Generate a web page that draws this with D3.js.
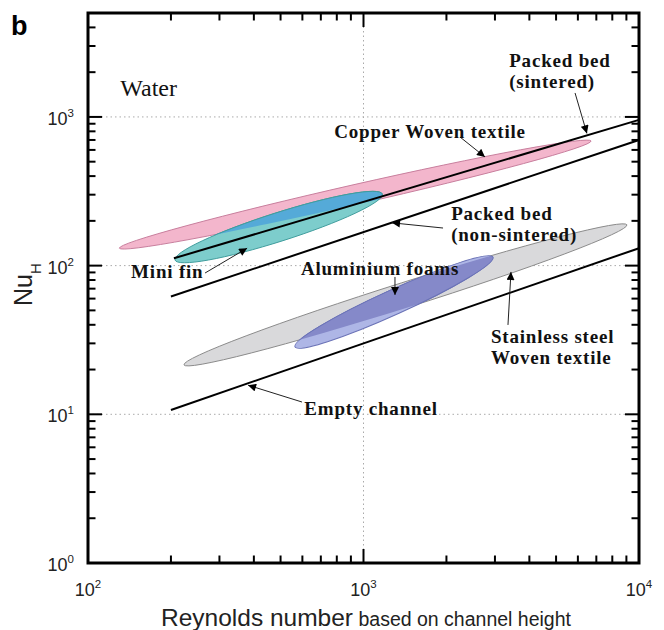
<!DOCTYPE html>
<html><head><meta charset="utf-8">
<script src="https://cdn.jsdelivr.net/npm/d3@7"></script>
<style>body{margin:0;background:#fff}</style>
</head><body>
<svg id="c" width="664" height="630"></svg>
<script>
// ---- data ----
const xTickExps = [2, 3, 4];            // Reynolds 10^2..10^4
const yTickExps = [0, 1, 2, 3];         // Nu 10^0..10^3
const lineNames = ["Packed bed (sintered)", "Packed bed (non-sintered)", "Empty channel"];
const lineRe = [[205, 10000], [200, 10000], [200, 10000]];
const lineNu = [[112, 955], [62, 700], [10.7, 131]];
const ellipseNames = ["Stainless steel Woven textile", "Aluminium foams", "Copper Woven textile", "Mini fin"];
const ellipseRe = [[223, 9040], [564, 2950], [130, 6700], [207, 1170]];
const ellipseNu = [[21.5, 188], [28.4, 114], [131, 689], [109, 303]];
const ellipseHalfWidthDec = [0.085, 0.083, 0.067, 0.096]; // half-width, decades of Nu
// annotation text, anchor (Re, Nu) and arrow (from Re,Nu -> to Re,Nu)
const annTexts = [["Packed bed", "(sintered)"], ["Copper Woven textile"], ["Packed bed", "(non-sintered)"],
                  ["Aluminium foams"], ["Stainless steel", "Woven textile"], ["Empty channel"], ["Mini fin"]];
const annAnchor = ["start", "middle", "start", "middle", "start", "middle", "middle"];
const annRe = [3380, 1744, 2080, 1148, 2900, 1065, 194];
const annNu = [2170, 722, 203, 86.6, 30.2, 9.9, 82.6];
const arrowFrom = [[5860, 1449], [2240, 733], [1944, 179], [1301, 83.9], [3345, 39.9], [598, 12.1], [266, 89.2]];
const arrowTo = [[6470, 775], [2760, 538], [1269, 194], [1301, 63.5], [3430, 90.7], [381, 15.7], [378, 131]];

// ---- setup ----
const svg = d3.select("#c");
const L = 88, R = 639, T = 13, B = 563;
const x = d3.scaleLog().domain([100, 10000]).range([L, R]);
const y = d3.scaleLog().domain([1, 5000]).range([B, T]);
const decPx = y(1) - y(10);

const defs = svg.append("defs");
defs.append("marker").attr("id", "ah").attr("viewBox", "0 0 10 10").attr("refX", 10).attr("refY", 5)
  .attr("markerWidth", 10).attr("markerHeight", 8).attr("markerUnits", "userSpaceOnUse").attr("orient", "auto")
  .append("path").attr("d", "M0,0 L10,5 L0,10 z").attr("fill", "#000");

// gridlines
const grid = svg.append("g").attr("stroke", "#aaa").attr("stroke-width", 1).attr("stroke-dasharray", "1.5,3");
[10, 100, 1000].forEach(v => grid.append("line").attr("x1", L).attr("x2", R).attr("y1", y(v)).attr("y2", y(v)));
[1000].forEach(v => grid.append("line").attr("x1", x(v)).attr("x2", x(v)).attr("y1", T).attr("y2", B));

// ellipses
function ellipseGeom(i) {
  const p1 = [x(ellipseRe[i][0]), y(ellipseNu[i][0])], p2 = [x(ellipseRe[i][1]), y(ellipseNu[i][1])];
  const cx = (p1[0] + p2[0]) / 2, cy = (p1[1] + p2[1]) / 2;
  const a = Math.hypot(p2[0] - p1[0], p2[1] - p1[1]) / 2;
  const ang = Math.atan2(p2[1] - p1[1], p2[0] - p1[0]) * 180 / Math.PI;
  return {cx, cy, a, b: ellipseHalfWidthDec[i] * decPx, ang};
}
function addEllipse(sel, i) {
  const g = ellipseGeom(i);
  return sel.append("ellipse").attr("cx", g.cx).attr("cy", g.cy).attr("rx", g.a).attr("ry", g.b)
    .attr("transform", `rotate(${g.ang},${g.cx},${g.cy})`);
}
const fills = ["#d9d9db", "#aeb6e6", "#f3b6cc", "#7dcdcc"];
const strokes = ["#8a8a8a", "#6a72b6", "#c77d9c", "#3f9c9c"];
const overlapFill = {1: "#8589c9", 3: "#55aad8"};
const clipOf = {1: 0, 3: 2};
[0, 2].forEach(i => addEllipse(defs.append("clipPath").attr("id", "clip" + i), i));
const eg = svg.append("g");
[0, 1, 2, 3].forEach(i => {
  addEllipse(eg, i).attr("fill", fills[i]).attr("stroke", strokes[i]).attr("stroke-width", 0.9);
  if (overlapFill[i]) {
    addEllipse(eg.append("g").attr("clip-path", `url(#clip${clipOf[i]})`), i)
      .attr("fill", overlapFill[i]).attr("stroke", strokes[i]).attr("stroke-width", 0.9);
  }
});

// correlation lines
const lineGen = d3.line().x(d => x(d[0])).y(d => y(d[1]));
svg.append("g").selectAll("path").data(lineNames).join("path")
  .attr("d", (d, i) => lineGen(lineRe[i].map((r, j) => [r, lineNu[i][j]])))
  .attr("fill", "none").attr("stroke", "#000").attr("stroke-width", 2);

// annotations
const ag = svg.append("g");
arrowFrom.forEach((f, i) => {
  ag.append("line").attr("x1", x(f[0])).attr("y1", y(f[1])).attr("x2", x(arrowTo[i][0])).attr("y2", y(arrowTo[i][1]))
    .attr("stroke", "#222").attr("stroke-width", 1).attr("marker-end", "url(#ah)");
});
annTexts.forEach((lines, i) => {
  const t = ag.append("text").attr("x", x(annRe[i])).attr("y", y(annNu[i])).attr("text-anchor", annAnchor[i])
    .attr("font-family", "'Liberation Serif', 'Times New Roman', serif").attr("font-weight", "bold")
    .attr("font-size", 19).attr("letter-spacing", 0.8).attr("fill", "#111");
  lines.forEach((s, j) => t.append("tspan").attr("x", x(annRe[i])).attr("dy", j ? 21 : 0).text(s));
});
svg.append("text").attr("x", x(131)).attr("y", y(1384))
  .attr("font-family", "'Liberation Serif', 'Times New Roman', serif").attr("font-size", 24).attr("fill", "#111").text("Water");

// ticks (inward, all four sides)
const tg = svg.append("g").attr("stroke", "#000").attr("stroke-width", 2);
const minorX = [], minorY = [];
for (let e = 2; e < 4; e++) for (let k = 2; k <= 9; k++) minorX.push(k * 10 ** e);
for (let e = 0; e < 4; e++) for (let k = 2; k <= 9; k++) { const v = k * 10 ** e; if (v < 5000) minorY.push(v); }
const MAJ = 14, MIN = 7.5;
xTickExps.forEach(e => { const px = x(10 ** e);
  tg.append("line").attr("x1", px).attr("x2", px).attr("y1", B).attr("y2", B - MAJ);
  tg.append("line").attr("x1", px).attr("x2", px).attr("y1", T).attr("y2", T + MAJ); });
minorX.forEach(v => { const px = x(v);
  tg.append("line").attr("x1", px).attr("x2", px).attr("y1", B).attr("y2", B - MIN);
  tg.append("line").attr("x1", px).attr("x2", px).attr("y1", T).attr("y2", T + MIN); });
yTickExps.forEach(e => { const py = y(10 ** e);
  tg.append("line").attr("y1", py).attr("y2", py).attr("x1", L).attr("x2", L + MAJ);
  tg.append("line").attr("y1", py).attr("y2", py).attr("x1", R).attr("x2", R - MAJ); });
minorY.forEach(v => { const py = y(v);
  tg.append("line").attr("y1", py).attr("y2", py).attr("x1", L).attr("x2", L + MIN);
  tg.append("line").attr("y1", py).attr("y2", py).attr("x1", R).attr("x2", R - MIN); });

// frame
svg.append("rect").attr("x", L).attr("y", T).attr("width", R - L).attr("height", B - T)
  .attr("fill", "none").attr("stroke", "#000").attr("stroke-width", 3);

// tick labels
const font = "Arial, 'Liberation Sans', Helvetica, sans-serif";
xTickExps.forEach(e => {
  const t = svg.append("text").attr("x", x(10 ** e)).attr("y", 596).attr("text-anchor", "middle")
    .attr("font-family", font).attr("font-size", 18).attr("fill", "#222");
  t.append("tspan").text("10");
  t.append("tspan").attr("dy", -8).attr("font-size", 11.5).text(e);
});
yTickExps.forEach(e => {
  const t = svg.append("text").attr("x", 74).attr("y", y(10 ** e) + 8).attr("text-anchor", "end")
    .attr("font-family", font).attr("font-size", 18).attr("fill", "#222");
  t.append("tspan").text("10");
  t.append("tspan").attr("dy", -8).attr("font-size", 11.5).text(e);
});

// axis titles
const xt = svg.append("text").attr("x", 366).attr("y", 626).attr("text-anchor", "middle")
  .attr("font-family", font).attr("fill", "#222");
xt.append("tspan").attr("font-size", 24.5).text("Reynolds number");
xt.append("tspan").attr("font-size", 19.5).text(" based on channel height");
const yt = svg.append("text").attr("transform", "translate(32,306) rotate(-90)")
  .attr("font-family", font).attr("fill", "#222");
yt.append("tspan").attr("font-size", 25).text("Nu");
yt.append("tspan").attr("font-size", 15).attr("dy", 9).text("H");

// panel letter
svg.append("text").attr("x", 11).attr("y", 35).attr("font-family", font).attr("font-weight", "bold")
  .attr("font-size", 27).attr("fill", "#000").text("b");
</script>
</body></html>
